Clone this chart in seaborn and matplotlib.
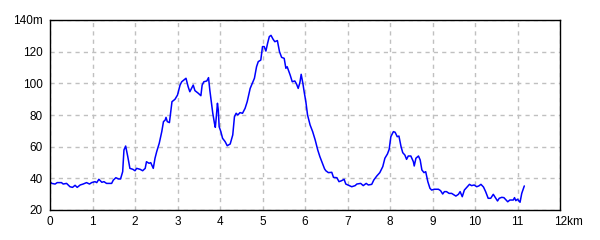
import matplotlib
matplotlib.use("Agg")
import matplotlib.pyplot as plt
import matplotlib.transforms as mtransforms
import seaborn as sns
import pandas as pd

distance_km = [
    0.00, 0.04, 0.12, 0.17, 0.27, 0.31, 0.39, 0.47, 0.53, 0.59, 0.64, 0.71, 0.78, 0.86, 0.93, 0.98,
    1.06, 1.10, 1.15, 1.22, 1.27, 1.33, 1.45, 1.49, 1.55, 1.61, 1.66, 1.71, 1.74, 1.78, 1.83, 1.88,
    1.95, 2.00, 2.04, 2.12, 2.18, 2.24, 2.27, 2.33, 2.37, 2.43, 2.47, 2.51, 2.57, 2.63, 2.67, 2.71,
    2.73, 2.76, 2.81, 2.84, 2.87, 2.94, 3.00, 3.06, 3.10, 3.15, 3.20, 3.25, 3.29, 3.35, 3.37, 3.41,
    3.49, 3.55, 3.58, 3.62, 3.69, 3.73, 3.76, 3.79, 3.83, 3.87, 3.89, 3.91, 3.94, 3.96, 3.98, 4.02,
    4.06, 4.12, 4.17, 4.24, 4.30, 4.34, 4.38, 4.42, 4.47, 4.53, 4.59, 4.64, 4.71, 4.76, 4.81, 4.86,
    4.90, 4.96, 5.00, 5.04, 5.08, 5.12, 5.16, 5.20, 5.25, 5.29, 5.35, 5.40, 5.45, 5.51, 5.55, 5.58,
    5.65, 5.70, 5.76, 5.80, 5.84, 5.88, 5.91, 5.95, 5.98, 6.02, 6.06, 6.12, 6.18, 6.24, 6.30, 6.35,
    6.41, 6.46, 6.49, 6.55, 6.63, 6.67, 6.75, 6.80, 6.86, 6.92, 6.96, 7.04, 7.10, 7.18, 7.22, 7.31,
    7.37, 7.44, 7.49, 7.57, 7.62, 7.69, 7.76, 7.83, 7.88, 7.94, 7.98, 8.02, 8.08, 8.12, 8.17, 8.21,
    8.26, 8.30, 8.35, 8.39, 8.43, 8.49, 8.55, 8.57, 8.61, 8.67, 8.71, 8.75, 8.80, 8.84, 8.89, 8.94,
    8.98, 9.04, 9.14, 9.19, 9.24, 9.28, 9.33, 9.39, 9.45, 9.51, 9.55, 9.61, 9.65, 9.70, 9.75, 9.80,
    9.87, 9.92, 9.98, 10.04, 10.09, 10.14, 10.20, 10.25, 10.31, 10.37, 10.43, 10.49, 10.53, 10.57,
    10.63, 10.68, 10.73, 10.77, 10.82, 10.90, 10.93, 10.96, 11.00, 11.06, 11.10, 11.16,
]
elevation_m = [
    37.9, 36.8, 36.4, 37.3, 37.3, 36.4, 36.8, 34.7, 34.3, 35.6, 34.3, 35.8, 36.4, 37.3, 36.4, 37.3,
    37.9, 37.3, 39.4, 37.5, 37.9, 36.8, 36.8, 38.9, 40.4, 39.6, 39.6, 44.2, 57.9, 60.4, 53.7, 46.3,
    45.7, 44.8, 46.3, 45.7, 44.8, 46.3, 50.5, 49.5, 49.9, 46.3, 52.6, 56.8, 62.1, 69.5, 75.8, 76.8,
    78.5, 75.8, 75.2, 82.1, 88.4, 89.9, 92.6, 98.9, 101.0, 102.1, 103.2, 97.9, 94.7, 97.9, 98.9, 95.4,
    93.7, 92.2, 98.9, 101.0, 101.5, 103.6, 95.8, 89.5, 81.1, 74.7, 72.2, 77.9, 87.4, 83.2, 72.6, 69.5,
    65.3, 63.2, 60.6, 61.7, 67.4, 78.9, 81.1, 80.0, 81.5, 81.1, 84.2, 88.4, 96.8, 100.0, 103.2, 110.5,
    113.7, 114.7, 123.2, 123.2, 120.4, 125.3, 129.5, 130.3, 127.8, 126.3, 127.0, 120.0, 116.4, 115.8, 109.5, 110.5,
    105.3, 101.0, 101.5, 99.6, 96.8, 100.5, 105.7, 100.0, 94.7, 88.4, 80.0, 73.7, 69.5, 64.2, 57.9, 53.7,
    49.5, 46.0, 44.8, 43.6, 43.8, 40.6, 40.4, 37.9, 38.5, 39.4, 36.4, 35.4, 34.7, 35.4, 36.4, 36.8,
    35.4, 36.8, 35.8, 36.2, 39.0, 41.5, 43.6, 47.4, 52.7, 55.4, 58.3, 66.3, 69.5, 69.1, 66.3, 66.7,
    60.0, 56.2, 54.7, 52.0, 54.1, 54.1, 50.5, 47.8, 52.7, 54.1, 51.6, 45.3, 43.6, 44.2, 37.9, 33.7,
    32.6, 33.1, 33.1, 32.2, 30.1, 31.6, 31.6, 30.5, 30.5, 29.5, 28.8, 29.9, 31.6, 28.4, 32.6, 34.1,
    36.2, 35.4, 35.8, 34.7, 35.2, 36.2, 34.5, 31.6, 27.4, 27.4, 29.9, 27.4, 25.7, 27.4,
    28.0, 27.8, 26.3, 25.2, 26.3, 26.3, 27.8, 25.9, 26.8, 24.9, 30.5, 35.2,
]
x_ticks = list(range(0, 13))
x_labels = [str(v) for v in range(0, 12)] + ["12km"]
y_ticks = [20, 40, 60, 80, 100, 120, 140]
y_labels = ["20", "40", "60", "80", "100", "120", "140m"]

df = pd.DataFrame({"km": distance_km, "m": elevation_m})

sns.set_style("white")
plt.rcParams["font.family"] = ["Liberation Sans", "DejaVu Sans"]

fig = plt.figure(figsize=(6, 2.4), dpi=100)
ax = fig.add_axes([50 / 600, 30 / 240, 510 / 600, 190 / 240])

sns.lineplot(data=df, x="km", y="m", ax=ax, color="#0000ff", linewidth=1.1, estimator=None, sort=False)

ax.set_xlim(0, 12)
ax.set_ylim(20, 140)
ax.set_xticks(x_ticks)
ax.set_xticklabels(x_labels)
ax.set_yticks(y_ticks)
ax.set_yticklabels(y_labels)
ax.set_xlabel("")
ax.set_ylabel("")
ax.tick_params(axis="both", length=0, labelsize=8.5, colors="black")
ax.tick_params(axis="x", pad=4)
ax.tick_params(axis="y", pad=5)

last = ax.get_xticklabels()[-1]
last.set_horizontalalignment("left")
last.set_transform(last.get_transform() + mtransforms.ScaledTranslation(-6 / 100, 0, fig.dpi_scale_trans))

ax.grid(True, color="#c0c0c0", linestyle=(0, (3, 3)), linewidth=1)
ax.set_axisbelow(True)
for s in ax.spines.values():
    s.set_color("black")
    s.set_linewidth(1)
    s.set_visible(True)

fig.savefig("out.png", dpi=100, facecolor="white")
